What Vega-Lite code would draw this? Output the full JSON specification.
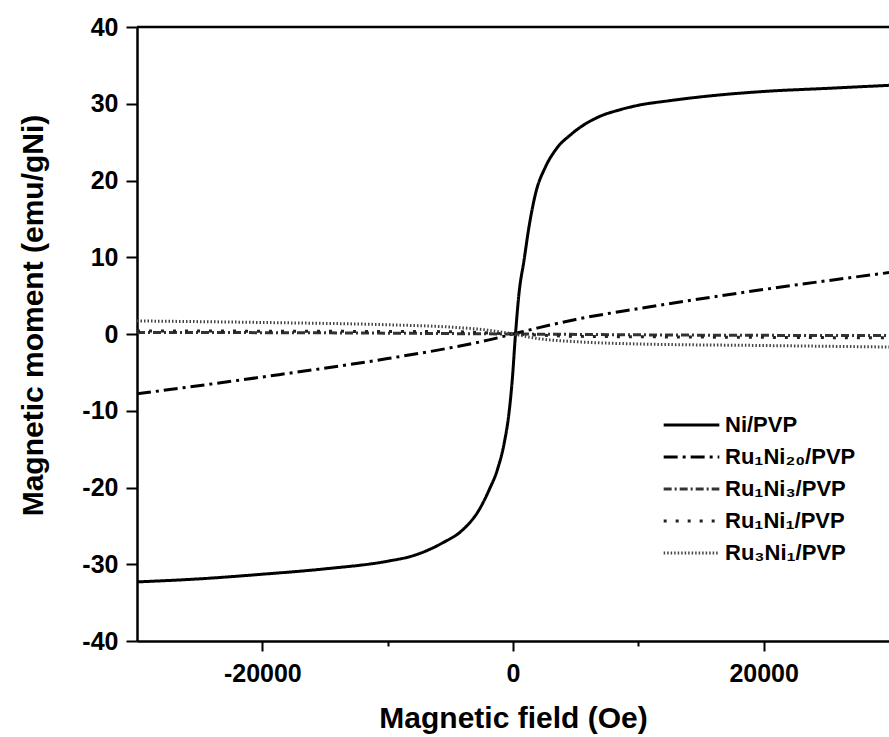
{
  "$schema": "https://vega.github.io/schema/vega-lite/v6.json",
  "width": 752,
  "height": 614,
  "autosize": {"type": "none"},
  "padding": {"left": 137, "top": 27, "right": 0, "bottom": 96},
  "background": "white",
  "config": {"view": {"stroke": null}, "font": "Liberation Sans"},
  "datasets": {
    "curves": [
      {"series": "Ni/PVP", "field": -30000, "moment": -32.3},
      {"series": "Ni/PVP", "field": -25000, "moment": -31.9},
      {"series": "Ni/PVP", "field": -20000, "moment": -31.3},
      {"series": "Ni/PVP", "field": -15000, "moment": -30.6},
      {"series": "Ni/PVP", "field": -10000, "moment": -29.6},
      {"series": "Ni/PVP", "field": -8000, "moment": -28.9},
      {"series": "Ni/PVP", "field": -6700, "moment": -28.1},
      {"series": "Ni/PVP", "field": -5600, "moment": -27.2},
      {"series": "Ni/PVP", "field": -4000, "moment": -25.5},
      {"series": "Ni/PVP", "field": -2700, "moment": -22.9},
      {"series": "Ni/PVP", "field": -1900, "moment": -20.3},
      {"series": "Ni/PVP", "field": -1250, "moment": -17.7},
      {"series": "Ni/PVP", "field": -700, "moment": -14.2},
      {"series": "Ni/PVP", "field": -320, "moment": -10.3},
      {"series": "Ni/PVP", "field": -60, "moment": -6.0},
      {"series": "Ni/PVP", "field": 200, "moment": 0.0},
      {"series": "Ni/PVP", "field": 480, "moment": 5.3},
      {"series": "Ni/PVP", "field": 880, "moment": 9.6},
      {"series": "Ni/PVP", "field": 1280, "moment": 14.0},
      {"series": "Ni/PVP", "field": 1800, "moment": 18.3},
      {"series": "Ni/PVP", "field": 2600, "moment": 21.8},
      {"series": "Ni/PVP", "field": 3400, "moment": 24.0},
      {"series": "Ni/PVP", "field": 4700, "moment": 26.1},
      {"series": "Ni/PVP", "field": 6850, "moment": 28.3},
      {"series": "Ni/PVP", "field": 8500, "moment": 29.2},
      {"series": "Ni/PVP", "field": 10000, "moment": 29.8},
      {"series": "Ni/PVP", "field": 12500, "moment": 30.4},
      {"series": "Ni/PVP", "field": 15000, "moment": 30.9},
      {"series": "Ni/PVP", "field": 20000, "moment": 31.6},
      {"series": "Ni/PVP", "field": 25000, "moment": 32.0},
      {"series": "Ni/PVP", "field": 30000, "moment": 32.4},

      {"series": "Ru₁Ni₂₀/PVP", "field": -30000, "moment": -7.8},
      {"series": "Ru₁Ni₂₀/PVP", "field": -20000, "moment": -5.6},
      {"series": "Ru₁Ni₂₀/PVP", "field": -10000, "moment": -3.2},
      {"series": "Ru₁Ni₂₀/PVP", "field": -5000, "moment": -1.8},
      {"series": "Ru₁Ni₂₀/PVP", "field": -2000, "moment": -0.8},
      {"series": "Ru₁Ni₂₀/PVP", "field": 0, "moment": 0.0},
      {"series": "Ru₁Ni₂₀/PVP", "field": 2000, "moment": 0.8},
      {"series": "Ru₁Ni₂₀/PVP", "field": 5000, "moment": 1.9},
      {"series": "Ru₁Ni₂₀/PVP", "field": 10000, "moment": 3.3},
      {"series": "Ru₁Ni₂₀/PVP", "field": 20000, "moment": 5.8},
      {"series": "Ru₁Ni₂₀/PVP", "field": 30000, "moment": 8.0},

      {"series": "Ru₁Ni₃/PVP", "field": -30000, "moment": 0.2},
      {"series": "Ru₁Ni₃/PVP", "field": -15000, "moment": 0.15},
      {"series": "Ru₁Ni₃/PVP", "field": 0, "moment": 0.0},
      {"series": "Ru₁Ni₃/PVP", "field": 15000, "moment": -0.15},
      {"series": "Ru₁Ni₃/PVP", "field": 30000, "moment": -0.2},

      {"series": "Ru₁Ni₁/PVP", "field": -30000, "moment": 0.4},
      {"series": "Ru₁Ni₁/PVP", "field": -15000, "moment": 0.35},
      {"series": "Ru₁Ni₁/PVP", "field": -5000, "moment": 0.3},
      {"series": "Ru₁Ni₁/PVP", "field": 0, "moment": 0.0},
      {"series": "Ru₁Ni₁/PVP", "field": 5000, "moment": -0.3},
      {"series": "Ru₁Ni₁/PVP", "field": 15000, "moment": -0.4},
      {"series": "Ru₁Ni₁/PVP", "field": 30000, "moment": -0.5},

      {"series": "Ru₃Ni₁/PVP", "field": -30000, "moment": 1.7},
      {"series": "Ru₃Ni₁/PVP", "field": -20000, "moment": 1.5},
      {"series": "Ru₃Ni₁/PVP", "field": -10000, "moment": 1.2},
      {"series": "Ru₃Ni₁/PVP", "field": -5000, "moment": 0.9},
      {"series": "Ru₃Ni₁/PVP", "field": -2000, "moment": 0.5},
      {"series": "Ru₃Ni₁/PVP", "field": 0, "moment": 0.0},
      {"series": "Ru₃Ni₁/PVP", "field": 2000, "moment": -0.6},
      {"series": "Ru₃Ni₁/PVP", "field": 5000, "moment": -1.0},
      {"series": "Ru₃Ni₁/PVP", "field": 10000, "moment": -1.3},
      {"series": "Ru₃Ni₁/PVP", "field": 20000, "moment": -1.5},
      {"series": "Ru₃Ni₁/PVP", "field": 30000, "moment": -1.7}
    ]
  },
  "layer": [
    {
      "data": {"name": "curves"},
      "mark": {"type": "line", "interpolate": "monotone", "clip": true},
      "encoding": {
        "x": {
          "field": "field", "type": "quantitative",
          "scale": {"domain": [-30000, 30000], "nice": false},
          "title": "Magnetic field (Oe)",
          "axis": {
            "values": [-20000, -10000, 0, 10000, 20000],
            "labelExpr": "datum.value % 20000 === 0 ? datum.value : ''",
            "grid": false,
            "domainColor": "black", "domainWidth": 2.5,
            "tickColor": "black", "tickWidth": 2,
            "tickSize": {"condition": {"test": "datum.value % 20000 === 0", "value": 10}, "value": 5},
            "labelFont": "Liberation Sans", "labelFontSize": 25, "labelFontWeight": "bold", "labelColor": "black",
            "labelPadding": 10,
            "titleFont": "Liberation Sans", "titleFontSize": 30, "titleFontWeight": "bold", "titleColor": "black",
            "titlePadding": 17
          }
        },
        "y": {
          "field": "moment", "type": "quantitative",
          "scale": {"domain": [-40, 40], "nice": false},
          "title": "Magnetic moment (emu/gNi)",
          "axis": {
            "values": [-40, -35, -30, -25, -20, -15, -10, -5, 0, 5, 10, 15, 20, 25, 30, 35, 40],
            "labelExpr": "datum.value % 10 === 0 ? datum.value : ''",
            "grid": false,
            "domainColor": "black", "domainWidth": 2.5,
            "tickColor": "black", "tickWidth": 2,
            "tickSize": {"condition": {"test": "datum.value % 10 === 0", "value": 11}, "value": 5},
            "labelFont": "Liberation Sans", "labelFontSize": 25, "labelFontWeight": "bold", "labelColor": "black",
            "labelPadding": 8,
            "titleFont": "Liberation Sans", "titleFontSize": 30, "titleFontWeight": "bold", "titleColor": "black",
            "titlePadding": 33,
            "titleY": 288
          }
        },
        "color": {
          "field": "series", "type": "nominal",
          "scale": {
            "domain": ["Ni/PVP", "Ru₁Ni₂₀/PVP", "Ru₁Ni₃/PVP", "Ru₁Ni₁/PVP", "Ru₃Ni₁/PVP"],
            "range": ["#000000", "#000000", "#333333", "#222222", "#444444"]
          },
          "legend": {
            "orient": "none", "legendX": 525, "legendY": 387,
            "title": null,
            "symbolType": "stroke", "symbolSize": 3100,
            "labelFont": "Liberation Sans", "labelFontSize": 22, "labelFontWeight": "bold", "labelColor": "black",
            "labelOffset": 4, "rowPadding": 10, "clipHeight": 22
          }
        },
        "strokeDash": {
          "field": "series", "type": "nominal",
          "scale": {
            "domain": ["Ni/PVP", "Ru₁Ni₂₀/PVP", "Ru₁Ni₃/PVP", "Ru₁Ni₁/PVP", "Ru₃Ni₁/PVP"],
            "range": [[1, 0], [14, 5, 3, 5], [8, 3, 2, 3], [3, 9], [1.5, 2]]
          },
          "legend": {
            "orient": "none", "legendX": 525, "legendY": 387,
            "title": null,
            "symbolType": "stroke", "symbolSize": 3100,
            "labelFont": "Liberation Sans", "labelFontSize": 22, "labelFontWeight": "bold", "labelColor": "black",
            "labelOffset": 4, "rowPadding": 10, "clipHeight": 22
          }
        },
        "strokeWidth": {
          "field": "series", "type": "nominal",
          "scale": {
            "domain": ["Ni/PVP", "Ru₁Ni₂₀/PVP", "Ru₁Ni₃/PVP", "Ru₁Ni₁/PVP", "Ru₃Ni₁/PVP"],
            "range": [3, 3, 1.5, 2, 1.5]
          },
          "legend": {
            "orient": "none", "legendX": 525, "legendY": 387,
            "title": null,
            "symbolType": "stroke", "symbolSize": 3100,
            "labelFont": "Liberation Sans", "labelFontSize": 22, "labelFontWeight": "bold", "labelColor": "black",
            "labelOffset": 4, "rowPadding": 10, "clipHeight": 22
          }
        }
      }
    },
    {
      "data": {"values": [{}]},
      "mark": {"type": "rule", "color": "black", "strokeWidth": 2.5},
      "encoding": {"y": {"datum": 40}}
    }
  ]
}
